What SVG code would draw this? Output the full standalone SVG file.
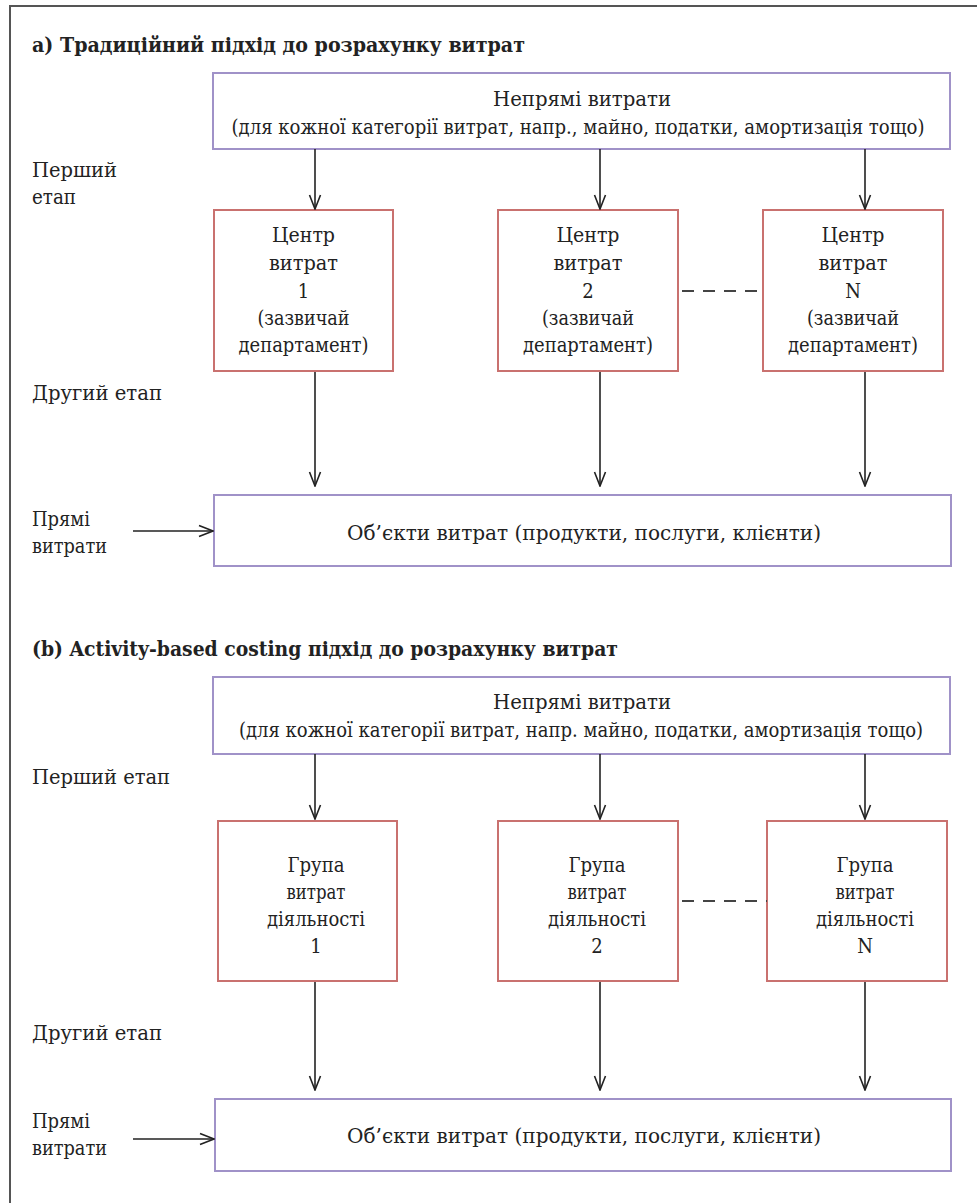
<svg xmlns="http://www.w3.org/2000/svg" width="977" height="1203" viewBox="0 0 977 1203">
<defs>
<marker id="ah" markerWidth="16" markerHeight="14" refX="15" refY="7" orient="auto" markerUnits="userSpaceOnUse" viewBox="0 0 16 14">
<path d="M1,1.5 L15,7 L1,12.5" fill="none" stroke="#222" stroke-width="1.6"/>
</marker>
</defs>
<style>
text{font-family:"DejaVu Serif Condensed","DejaVu Serif",serif;font-size:20px;fill:#222}
.t{font-weight:bold}
.c{text-anchor:middle}
.pb{fill:#fff;stroke:#a092c8;stroke-width:2}
.rb{fill:#fff;stroke:#c9716f;stroke-width:2}
.ln{stroke:#222;stroke-width:1.6;fill:none}
.dash{stroke:#444;stroke-width:2;stroke-dasharray:12 9;fill:none}
</style>
<rect x="10" y="6" width="1000" height="1260" fill="#fff" stroke="#555" stroke-width="2"/>

<g id="section-a-labels">
<text class="t" x="32" y="52" textLength="493" lengthAdjust="spacingAndGlyphs">а) Традиційний підхід до розрахунку витрат</text>
<text x="32" y="177" textLength="85" lengthAdjust="spacingAndGlyphs">Перший</text>
<text x="32" y="204" textLength="44" lengthAdjust="spacingAndGlyphs">етап</text>
<text x="32" y="400" textLength="130" lengthAdjust="spacingAndGlyphs">Другий етап</text>
<text x="32" y="526" textLength="58" lengthAdjust="spacingAndGlyphs">Прямі</text>
<text x="32" y="553" textLength="75" lengthAdjust="spacingAndGlyphs">витрати</text>
</g>

<g id="a-indirect">
<rect class="pb" x="213" y="73" width="737" height="76"/>
<text class="c" x="582" y="106" textLength="178" lengthAdjust="spacingAndGlyphs">Непрямі витрати</text>
<text class="c" x="578" y="134" textLength="693" lengthAdjust="spacingAndGlyphs">(для кожної категорії витрат, напр., майно, податки, амортизація тощо)</text>
</g>
<g id="a-center1">
<rect class="rb" x="214" y="210" width="179" height="161"/>
<text class="c" x="303.5" y="242" textLength="63" lengthAdjust="spacingAndGlyphs">Центр</text>
<text class="c" x="303.5" y="270" textLength="69" lengthAdjust="spacingAndGlyphs">витрат</text>
<text class="c" x="303.5" y="298">1</text>
<text class="c" x="303.5" y="325" textLength="92" lengthAdjust="spacingAndGlyphs">(зазвичай</text>
<text class="c" x="303.5" y="352" textLength="130" lengthAdjust="spacingAndGlyphs">департамент)</text>
</g>
<g id="a-center2">
<rect class="rb" x="498" y="210" width="180" height="161"/>
<text class="c" x="588" y="242" textLength="63" lengthAdjust="spacingAndGlyphs">Центр</text>
<text class="c" x="588" y="270" textLength="69" lengthAdjust="spacingAndGlyphs">витрат</text>
<text class="c" x="588" y="298">2</text>
<text class="c" x="588" y="325" textLength="92" lengthAdjust="spacingAndGlyphs">(зазвичай</text>
<text class="c" x="588" y="352" textLength="130" lengthAdjust="spacingAndGlyphs">департамент)</text>
</g>
<g id="a-centerN">
<rect class="rb" x="763" y="210" width="180" height="161"/>
<text class="c" x="853" y="242" textLength="63" lengthAdjust="spacingAndGlyphs">Центр</text>
<text class="c" x="853" y="270" textLength="69" lengthAdjust="spacingAndGlyphs">витрат</text>
<text class="c" x="853" y="298">N</text>
<text class="c" x="853" y="325" textLength="92" lengthAdjust="spacingAndGlyphs">(зазвичай</text>
<text class="c" x="853" y="352" textLength="130" lengthAdjust="spacingAndGlyphs">департамент)</text>
</g>
<g id="a-objects">
<rect class="pb" x="214" y="495" width="737" height="71"/>
<text class="c" x="584" y="540" textLength="474" lengthAdjust="spacingAndGlyphs">Об’єкти витрат (продукти, послуги, клієнти)</text>
</g>

<g id="section-b-labels">
<text class="t" x="32" y="656" textLength="586" lengthAdjust="spacingAndGlyphs">(b) Activity-based costing підхід до розрахунку витрат</text>
<text x="32" y="784" textLength="138" lengthAdjust="spacingAndGlyphs">Перший етап</text>
<text x="32" y="1040" textLength="130" lengthAdjust="spacingAndGlyphs">Другий етап</text>
<text x="32" y="1128" textLength="58" lengthAdjust="spacingAndGlyphs">Прямі</text>
<text x="32" y="1155" textLength="75" lengthAdjust="spacingAndGlyphs">витрати</text>
</g>

<g id="b-indirect">
<rect class="pb" x="213" y="677" width="737" height="77"/>
<text class="c" x="582" y="709" textLength="178" lengthAdjust="spacingAndGlyphs">Непрямі витрати</text>
<text class="c" x="581" y="737" textLength="684" lengthAdjust="spacingAndGlyphs">(для кожної категорії витрат, напр. майно, податки, амортизація тощо)</text>
</g>
<g id="b-pool1">
<rect class="rb" x="218" y="821" width="179" height="160"/>
<text class="c" x="316" y="872" textLength="57" lengthAdjust="spacingAndGlyphs">Група</text>
<text class="c" x="316" y="899" textLength="59" lengthAdjust="spacingAndGlyphs">витрат</text>
<text class="c" x="316" y="926" textLength="98" lengthAdjust="spacingAndGlyphs">діяльності</text>
<text class="c" x="316" y="953">1</text>
</g>
<g id="b-pool2">
<rect class="rb" x="498" y="821" width="180" height="160"/>
<text class="c" x="597" y="872" textLength="57" lengthAdjust="spacingAndGlyphs">Група</text>
<text class="c" x="597" y="899" textLength="59" lengthAdjust="spacingAndGlyphs">витрат</text>
<text class="c" x="597" y="926" textLength="98" lengthAdjust="spacingAndGlyphs">діяльності</text>
<text class="c" x="597" y="953">2</text>
</g>
<g id="b-poolN">
<rect class="rb" x="767" y="821" width="180" height="160"/>
<text class="c" x="865" y="872" textLength="57" lengthAdjust="spacingAndGlyphs">Група</text>
<text class="c" x="865" y="899" textLength="59" lengthAdjust="spacingAndGlyphs">витрат</text>
<text class="c" x="865" y="926" textLength="98" lengthAdjust="spacingAndGlyphs">діяльності</text>
<text class="c" x="865" y="953">N</text>
</g>
<g id="b-objects">
<rect class="pb" x="215" y="1099" width="736" height="72"/>
<text class="c" x="584" y="1143" textLength="474" lengthAdjust="spacingAndGlyphs">Об’єкти витрат (продукти, послуги, клієнти)</text>
</g>

<g id="connectors">
<line class="ln" x1="315" y1="149" x2="315" y2="209" marker-end="url(#ah)"/>
<line class="ln" x1="600" y1="149" x2="600" y2="209" marker-end="url(#ah)"/>
<line class="ln" x1="865" y1="149" x2="865" y2="209" marker-end="url(#ah)"/>
<line class="dash" x1="682" y1="291" x2="763" y2="291"/>
<line class="ln" x1="315" y1="372" x2="315" y2="486" marker-end="url(#ah)"/>
<line class="ln" x1="600" y1="372" x2="600" y2="486" marker-end="url(#ah)"/>
<line class="ln" x1="865" y1="372" x2="865" y2="486" marker-end="url(#ah)"/>
<line class="ln" x1="133" y1="531" x2="213" y2="531" marker-end="url(#ah)"/>

<line class="ln" x1="315" y1="754" x2="315" y2="819" marker-end="url(#ah)"/>
<line class="ln" x1="600" y1="754" x2="600" y2="819" marker-end="url(#ah)"/>
<line class="ln" x1="865" y1="754" x2="865" y2="819" marker-end="url(#ah)"/>
<line class="dash" x1="682" y1="901" x2="767" y2="901"/>
<line class="ln" x1="315" y1="982" x2="315" y2="1090" marker-end="url(#ah)"/>
<line class="ln" x1="600" y1="982" x2="600" y2="1090" marker-end="url(#ah)"/>
<line class="ln" x1="865" y1="982" x2="865" y2="1090" marker-end="url(#ah)"/>
<line class="ln" x1="133" y1="1139" x2="214" y2="1139" marker-end="url(#ah)"/>
</g>
</svg>
